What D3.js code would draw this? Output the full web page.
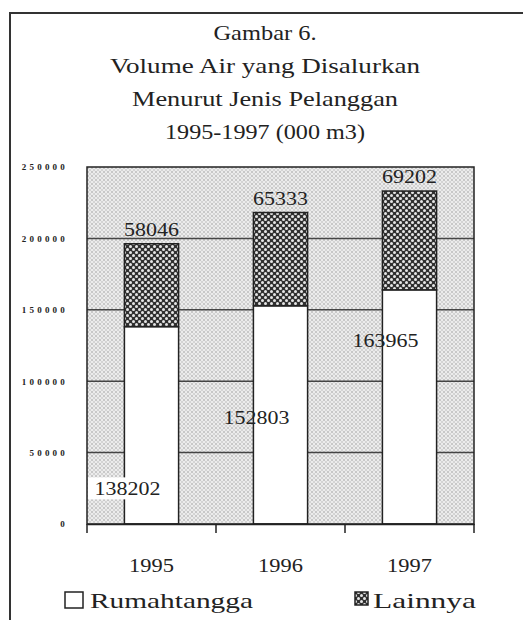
<!DOCTYPE html>
<html>
<head>
<meta charset="utf-8">
<script src="https://cdn.jsdelivr.net/npm/d3@7"></script>
<style>
  body { margin: 0; background: #fff; }
  text { font-family: "Liberation Serif", "DejaVu Serif", serif; fill: #222; }
</style>
</head>
<body>
<svg id="chart" width="523" height="620"></svg>
<script>
var years = ["1995", "1996", "1997"];
var rumahtangga = [138202, 152803, 163965];
var lainnya = [58046, 65333, 69202];
var yTicks = [0, 50000, 100000, 150000, 200000, 250000];
var titleLines = ["Gambar 6.", "Volume Air yang Disalurkan", "Menurut Jenis Pelanggan", "1995-1997 (000 m3)"];
var seriesNames = ["Rumahtangga", "Lainnya"];

var svg = d3.select("#chart"),
    margin = { top: 167, right: 49, bottom: 96, left: 87 },
    width = +svg.attr("width") - margin.left - margin.right,
    height = +svg.attr("height") - margin.top - margin.bottom;

// scanned print is a bit wider than the font, stretch text horizontally
function stretch(sel, k) {
    sel.each(function() {
        var w = this.getComputedTextLength();
        d3.select(this).attr("textLength", w * k).attr("lengthAdjust", "spacingAndGlyphs");
    });
}

var defs = svg.append("defs");
var bg = defs.append("pattern").attr("id", "stipple")
    .attr("patternUnits", "userSpaceOnUse").attr("width", 4).attr("height", 4);
bg.append("rect").attr("width", 4).attr("height", 4).attr("fill", "#ececec");
bg.append("circle").attr("cx", 1).attr("cy", 1).attr("r", 0.8).attr("fill", "#9a9a9a");
bg.append("circle").attr("cx", 3).attr("cy", 3).attr("r", 0.8).attr("fill", "#b5b5b5");

var dark = defs.append("pattern").attr("id", "checker")
    .attr("patternUnits", "userSpaceOnUse").attr("width", 6).attr("height", 6);
dark.append("rect").attr("width", 6).attr("height", 6).attr("fill", "#303030");
dark.append("circle").attr("cx", 1.5).attr("cy", 1.5).attr("r", 1.5).attr("fill", "#e6e6e6");
dark.append("circle").attr("cx", 4.5).attr("cy", 4.5).attr("r", 1.5).attr("fill", "#e6e6e6");

// outer frame of the scanned figure
svg.append("path")
    .attr("d", "M10,620V13H523")
    .attr("fill", "none").attr("stroke", "#333").attr("stroke-width", 2);

// title
var titleWidths = [103, 310, 266, 200];
svg.append("g").selectAll("text")
    .data(titleLines)
    .enter().append("text")
    .attr("x", 265)
    .attr("y", function(d, i) { return 40 + i * 33; })
    .attr("text-anchor", "middle")
    .attr("font-size", 21)
    .attr("textLength", function(d, i) { return titleWidths[i]; })
    .attr("lengthAdjust", "spacingAndGlyphs")
    .text(function(d) { return d; });

var x = d3.scaleBand().domain(years).range([0, width]),
    y = d3.scaleLinear().domain([0, 250000]).range([height, 0]);
var barW = x.bandwidth() * 0.42;

var g = svg.append("g")
    .attr("transform", "translate(" + margin.left + "," + margin.top + ")");

g.append("rect")
    .attr("width", width).attr("height", height)
    .attr("fill", "url(#stipple)");

g.append("g").selectAll("line")
    .data(yTicks.slice(1, -1))
    .enter().append("line")
    .attr("x1", 0).attr("x2", width)
    .attr("y1", function(d) { return y(d); })
    .attr("y2", function(d) { return y(d); })
    .attr("stroke", "#444").attr("stroke-width", 1.5);

var bars = g.append("g").selectAll("g")
    .data(years)
    .enter().append("g");

bars.append("rect")
    .attr("x", function(d) { return x(d) + (x.bandwidth() - barW) / 2; })
    .attr("y", function(d, i) { return y(rumahtangga[i]); })
    .attr("width", barW)
    .attr("height", function(d, i) { return height - y(rumahtangga[i]); })
    .attr("fill", "#fff").attr("stroke", "#222").attr("stroke-width", 1.5);

bars.append("rect")
    .attr("x", function(d) { return x(d) + (x.bandwidth() - barW) / 2; })
    .attr("y", function(d, i) { return y(rumahtangga[i] + lainnya[i]); })
    .attr("width", barW)
    .attr("height", function(d, i) { return y(rumahtangga[i]) - y(rumahtangga[i] + lainnya[i]); })
    .attr("fill", "url(#checker)").attr("stroke", "#222").attr("stroke-width", 1.5);

g.append("rect")
    .attr("width", width).attr("height", height)
    .attr("fill", "none").attr("stroke", "#222").attr("stroke-width", 1.5);

// value labels
bars.append("text")
    .attr("x", function(d) { return x(d) + x.bandwidth() / 2; })
    .attr("y", function(d, i) { return y(rumahtangga[i] + lainnya[i]) - 8; })
    .attr("text-anchor", "middle")
    .attr("font-size", 18)
    .text(function(d, i) { return lainnya[i]; })
    .call(stretch, 1.22);

// the print put the household labels at odd heights inside the bars
var rumahLabelAt = [0.145, 0.46, 0.755];
var rl = bars.append("text")
    .attr("x", function(d) { return x(d) + x.bandwidth() / 2 - 24; })
    .attr("y", function(d, i) { return y(rumahtangga[i] * rumahLabelAt[i]); })
    .attr("text-anchor", "middle")
    .attr("font-size", 18)
    .text(function(d, i) { return rumahtangga[i]; })
    .call(stretch, 1.22);

rl.filter(function(d, i) { return i === 0; }).each(function() {
    var b = this.getBBox();
    d3.select(this.parentNode).insert("rect", "text")
        .attr("x", 1).attr("y", b.y - 2)
        .attr("width", b.x + b.width - 1).attr("height", b.height + 2)
        .attr("fill", "#fff");
});

// x axis
var xAxis = g.append("g")
    .attr("transform", "translate(0," + height + ")")
    .call(d3.axisBottom(x).tickSize(0).tickPadding(35));
xAxis.select(".domain").attr("stroke", "#222").attr("stroke-width", 1.5);
xAxis.selectAll("text")
    .attr("font-family", "Liberation Serif").attr("font-size", 19).attr("fill", "#222")
    .call(stretch, 1.18);
xAxis.selectAll(".boundary")
    .data(years.map(function(d) { return x(d); }).concat([width]))
    .enter().append("line")
    .attr("class", "boundary")
    .attr("x1", function(d) { return d; }).attr("x2", function(d) { return d; })
    .attr("y1", 0).attr("y2", 9)
    .attr("stroke", "#222").attr("stroke-width", 1.5);

// y axis
var yAxis = g.append("g")
    .call(d3.axisLeft(y).tickValues(yTicks).tickSize(0).tickPadding(19).tickFormat(d3.format("d")));
yAxis.select(".domain").remove();
yAxis.selectAll("text")
    .attr("font-family", "Liberation Sans").attr("font-weight", "bold")
    .attr("font-size", 9).attr("fill", "#555").attr("letter-spacing", 3.2);

// legend
var legend = svg.append("g");
var swatch = [{ x: 65, fill: "#fff" }, { x: 355, fill: "url(#checker)" }];
legend.selectAll("rect")
    .data(seriesNames)
    .enter().append("rect")
    .attr("x", function(d, i) { return swatch[i].x; })
    .attr("y", 592)
    .attr("width", function(d, i) { return i === 0 ? 18 : 13; })
    .attr("height", function(d, i) { return i === 0 ? 16 : 13; })
    .attr("fill", function(d, i) { return swatch[i].fill; })
    .attr("stroke", "#222").attr("stroke-width", 1.5);
legend.selectAll("text")
    .data(seriesNames)
    .enter().append("text")
    .attr("x", function(d, i) { return i === 0 ? 90 : 373; })
    .attr("y", 608)
    .attr("font-size", 21)
    .attr("textLength", function(d, i) { return i === 0 ? 163 : 103; })
    .attr("lengthAdjust", "spacingAndGlyphs")
    .text(function(d) { return d; });
</script>
</body>
</html>
